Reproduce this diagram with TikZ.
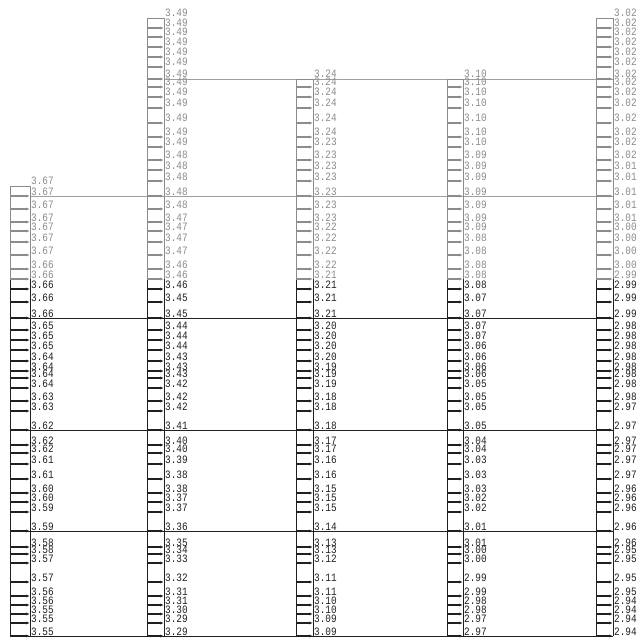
\documentclass[tikz,border=0pt]{standalone}
\usepackage{fontspec}
\setmonofont{Liberation Mono}
\usetikzlibrary{arrows.meta}
\definecolor{upgray}{HTML}{8C8C8C}
\definecolor{lngray}{HTML}{A0A0A0}
\definecolor{dark}{HTML}{202020}

% one column: name, left x, right x, colour, list of y/value
\newcommand\drawcol[5]{%
  \foreach \yy/\vv [count=\i] in {#5} {
    \draw[slice,#4] (#2,\yy) -- (#3,\yy);
    \node[val,text=#4] (#1-\i) at (#3+1,\yy-1) {\tallnum{\vv}};
  }}
\newcommand\tallnum[1]{\scalebox{1}[1.2]{#1}}

\begin{document}
\begin{tikzpicture}[x=1pt,y=-1pt,>={Latex[length=4pt,width=3pt]},
  slice/.style={->,line width=1.2pt},
  wall/.style={line width=0.7pt},
  floorline/.style={line width=0.6pt},
  val/.style={anchor=base west,inner sep=0pt,font=\ttfamily\fontsize{9.4}{9.4}\selectfont}]
  \useasboundingbox (0,0) rectangle (638,639);
  \fill[white] (0,0) rectangle (638,639);

  % floor lines
  \draw[floorline,lngray] (164,79) -- (613,79);
  \draw[floorline,lngray] (30,196) -- (613,196);
  \foreach \fy in {318,430,531,636}
    \draw[floorline,dark] (10,\fy) -- (613,\fy);

  % column 1
  \draw[wall,upgray] (10,279) -- (10,186) -- (30,186) -- (30,279);
  \draw[wall,dark] (10,279) -- (10,636) (30,279) -- (30,636);
  \node[val,text=upgray] (c1-top) at (31,185) {\tallnum{3.67}};
  \drawcol{c1g}{10}{30}{upgray}{196/3.67,209/3.67,222/3.67,231/3.67,242/3.67,255/3.67,269/3.66,279/3.66}
  \drawcol{c1k}{10}{30}{dark}{289/3.66,302/3.66,318/3.66,330/3.65,340/3.65,350/3.65,361/3.64,371/3.64,378/3.64,388/3.64,401/3.63,411/3.63,430/3.62,445/3.62,453/3.62,464/3.61,479/3.61,493/3.60,502/3.60,512/3.59,531/3.59,547/3.58,554/3.58,563/3.57,582/3.57,596/3.56,605/3.56,614/3.55,623/3.55,636/3.55}

  % column 2
  \draw[wall,upgray] (147,279) -- (147,18) -- (164,18) -- (164,279);
  \draw[wall,dark] (147,279) -- (147,636) (164,279) -- (164,636);
  \node[val,text=upgray] (c2-top) at (165,17) {\tallnum{3.49}};
  \drawcol{c2g}{147}{164}{upgray}{28/3.49,37/3.49,47/3.49,57/3.49,67/3.49,79/3.49,87/3.49,97/3.49,108/3.49,123/3.49,137/3.49,147/3.49,160/3.48,170/3.48,181/3.48,196/3.48,209/3.48,222/3.47,231/3.47,242/3.47,255/3.47,269/3.46,279/3.46}
  \drawcol{c2k}{147}{164}{dark}{289/3.46,302/3.45,318/3.45,330/3.44,340/3.44,350/3.44,361/3.43,371/3.43,378/3.43,388/3.42,401/3.42,411/3.42,430/3.41,445/3.40,453/3.40,464/3.39,479/3.38,493/3.38,502/3.37,512/3.37,531/3.36,547/3.35,554/3.34,563/3.33,582/3.32,596/3.31,605/3.31,614/3.30,623/3.29,636/3.29}

  % column 3
  \draw[wall,upgray] (296,279) -- (296,79) -- (313,79) -- (313,279);
  \draw[wall,dark] (296,279) -- (296,636) (313,279) -- (313,636);
  \node[val,text=upgray] (c3-top) at (314,78) {\tallnum{3.24}};
  \drawcol{c3g}{296}{313}{upgray}{87/3.24,97/3.24,108/3.24,123/3.24,137/3.24,147/3.23,160/3.23,170/3.23,181/3.23,196/3.23,209/3.23,222/3.23,231/3.22,242/3.22,255/3.22,269/3.22,279/3.21}
  \drawcol{c3k}{296}{313}{dark}{289/3.21,302/3.21,318/3.21,330/3.20,340/3.20,350/3.20,361/3.20,371/3.19,378/3.19,388/3.19,401/3.18,411/3.18,430/3.18,445/3.17,453/3.17,464/3.16,479/3.16,493/3.15,502/3.15,512/3.15,531/3.14,547/3.13,554/3.13,563/3.12,582/3.11,596/3.11,605/3.10,614/3.10,623/3.09,636/3.09}

  % column 4
  \draw[wall,upgray] (447,279) -- (447,79) -- (463,79) -- (463,279);
  \draw[wall,dark] (447,279) -- (447,636) (463,279) -- (463,636);
  \node[val,text=upgray] (c4-top) at (464,78) {\tallnum{3.10}};
  \drawcol{c4g}{447}{463}{upgray}{87/3.10,97/3.10,108/3.10,123/3.10,137/3.10,147/3.10,160/3.09,170/3.09,181/3.09,196/3.09,209/3.09,222/3.09,231/3.09,242/3.08,255/3.08,269/3.08,279/3.08}
  \drawcol{c4k}{447}{463}{dark}{289/3.08,302/3.07,318/3.07,330/3.07,340/3.07,350/3.06,361/3.06,371/3.06,378/3.06,388/3.05,401/3.05,411/3.05,430/3.05,445/3.04,453/3.04,464/3.03,479/3.03,493/3.03,502/3.02,512/3.02,531/3.01,547/3.01,554/3.00,563/3.00,582/2.99,596/2.99,605/2.98,614/2.98,623/2.97,636/2.97}

  % column 5
  \draw[wall,upgray] (596,279) -- (596,18) -- (613,18) -- (613,279);
  \draw[wall,dark] (596,279) -- (596,636) (613,279) -- (613,636);
  \node[val,text=upgray] (c5-top) at (614,17) {\tallnum{3.02}};
  \drawcol{c5g}{596}{613}{upgray}{28/3.02,37/3.02,47/3.02,57/3.02,67/3.02,79/3.02,87/3.02,97/3.02,108/3.02,123/3.02,137/3.02,147/3.02,160/3.02,170/3.01,181/3.01,196/3.01,209/3.01,222/3.01,231/3.00,242/3.00,255/3.00,269/3.00,279/2.99}
  \drawcol{c5k}{596}{613}{dark}{289/2.99,302/2.99,318/2.99,330/2.98,340/2.98,350/2.98,361/2.98,371/2.98,378/2.98,388/2.98,401/2.98,411/2.97,430/2.97,445/2.97,453/2.97,464/2.97,479/2.97,493/2.96,502/2.96,512/2.96,531/2.96,547/2.96,554/2.95,563/2.95,582/2.95,596/2.95,605/2.94,614/2.94,623/2.94,636/2.94}
\end{tikzpicture}
\end{document}
